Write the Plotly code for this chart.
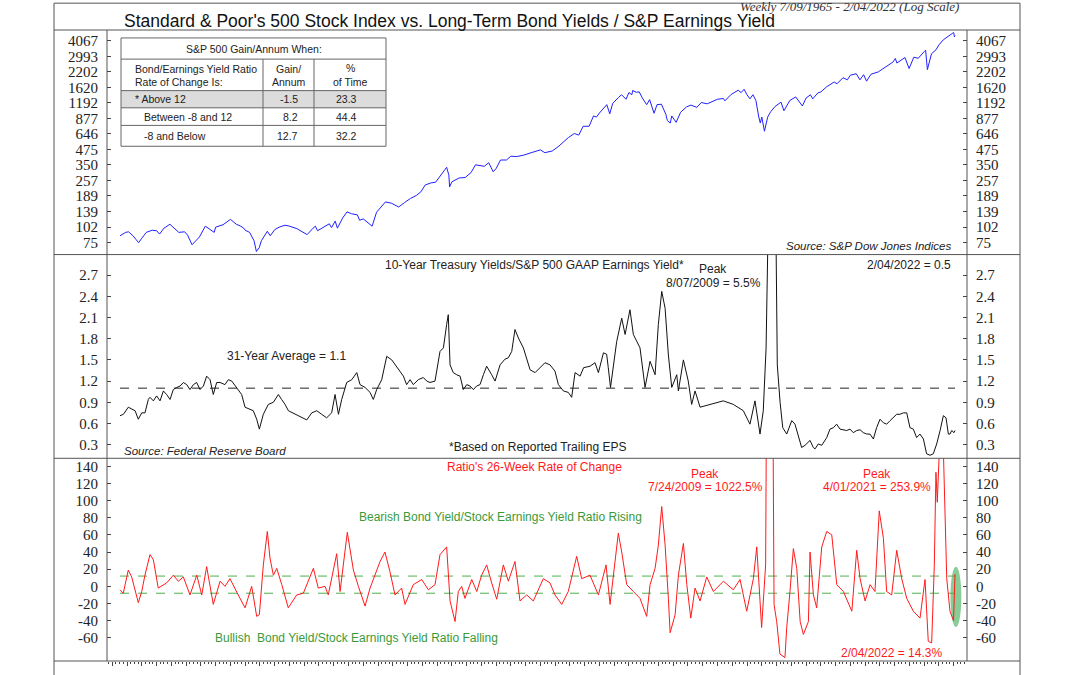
import pandas as pd
import numpy as np
import plotly.graph_objects as go

# ---------------- DATA ----------------
sp_t = [1965.52,1965.9,1966.1,1966.4,1966.6,1966.78,1967.0,1967.3,1967.7,1968.0,1968.2,1968.5,1968.9,1969.2,1969.5,1969.9,
        1970.1,1970.4,1970.5,1970.9,1971.3,1971.6,1971.9,1972.0,1972.5,1973.0,1973.4,1973.7,1973.9,1974.0,1974.3,1974.6,
        1974.76,1974.95,1975.1,1975.5,1975.7,1976.0,1976.3,1976.7,1977.0,1977.5,1977.9,1978.2,1978.6,1978.75,1978.9,1979.3,
        1979.7,1979.85,1980.1,1980.25,1980.6,1980.9,1981.2,1981.6,1981.75,1982.0,1982.6,1982.9,1983.5,1983.9,1984.4,1984.8,
        1985.2,1985.6,1985.9,1986.2,1986.6,1986.9,1987.3,1987.65,1987.8,1987.85,1988.0,1988.5,1988.9,1989.3,1989.6,1989.9,
        1990.2,1990.5,1990.8,1991.0,1991.3,1991.7,1992.0,1992.4,1992.9,1993.5,1994.0,1994.3,1994.8,1995.2,1995.6,1995.9,
        1996.3,1996.6,1996.9,1997.3,1997.6,1997.8,1998.0,1998.5,1998.7,1998.9,1999.3,1999.5,1999.8,2000.0,2000.2,2000.25,
        2000.5,2000.7,2000.9,2001.2,2001.4,2001.7,2001.9,2002.2,2002.5,2002.6,2002.8,2002.9,2003.2,2003.5,2003.9,2004.2,
        2004.6,2004.9,2005.3,2005.7,2006.0,2006.4,2006.5,2006.9,2007.4,2007.6,2007.8,2008.0,2008.2,2008.4,2008.6,2008.8,
        2008.9,2009.0,2009.18,2009.4,2009.6,2009.9,2010.3,2010.5,2010.9,2011.3,2011.6,2011.75,2012.0,2012.3,2012.45,2012.8,
        2013.0,2013.4,2013.9,2014.1,2014.5,2014.8,2015.0,2015.4,2015.65,2015.9,2016.1,2016.4,2016.9,2017.3,2017.9,2018.05,
        2018.15,2018.7,2018.98,2019.3,2019.6,2020.0,2020.1,2020.22,2020.5,2020.8,2021.0,2021.3,2021.6,2021.9,2022.0,2022.05,2022.09]
sp_v = [86,92,93,86,80,75,82,92,96,95,89,100,108,100,92,93,
        87,72,74,84,104,97,92,102,107,119,108,104,100,96,92,78,
        63,68,78,94,86,97,102,106,104,99,92,88,100,104,95,101,
        109,101,115,100,122,138,133,130,117,120,104,137,168,164,152,166,
        180,191,205,235,245,248,290,333,285,226,250,270,272,300,350,345,
        340,365,305,325,385,385,415,412,425,450,470,445,460,500,560,600,
        650,630,750,750,920,900,975,1150,960,1180,1330,1400,1280,1460,1400,1520,
        1470,1480,1320,1150,1270,970,1150,1160,950,840,800,920,810,990,1100,1140,
        1090,1200,1170,1230,1280,1300,1240,1400,1530,1460,1560,1400,1290,1400,1250,900,
        800,900,680,900,1000,1110,1210,1020,1250,1340,1200,1120,1310,1400,1290,1450,
        1480,1640,1800,1740,1960,1880,2060,2120,1880,2080,1830,2100,2200,2380,2680,2870,
        2620,2920,2350,2940,2880,3280,3380,2300,3150,3400,3750,4150,4450,4700,4790,4400,4500]

ratio_t = [1965.52,1965.75,1966.08,1966.31,1966.54,1966.76,1966.99,1967.21,1967.44,1967.55,1967.78,1968.00,1968.23,1968.46,
           1968.68,1968.91,1969.13,1969.36,1969.59,1969.81,1970.04,1970.26,1970.49,1970.71,1970.94,1971.17,1971.39,1971.62,
           1971.84,1972.07,1972.30,1972.63,1972.86,1973.09,1973.42,1973.76,1973.99,1974.33,1974.55,1974.78,1974.96,1975.23,
           1975.57,1975.91,1976.25,1976.47,1976.70,1976.93,1977.38,1977.83,1978.17,1978.51,1978.85,1979.18,1979.52,1979.86,
           1980.09,1980.32,1980.54,1980.88,1981.22,1981.56,1981.78,1982.12,1982.46,1982.68,1982.91,1983.25,1983.59,1983.93,
           1984.26,1984.49,1984.72,1984.94,1985.17,1985.39,1985.73,1986.07,1986.30,1986.52,1986.86,1987.20,1987.43,1987.65,
           1987.76,1987.88,1988.10,1988.33,1988.56,1988.78,1989.01,1989.23,1989.46,1989.68,1989.91,1990.14,1990.36,1990.70,
           1990.93,1991.27,1991.60,1991.83,1992.06,1992.28,1992.51,1992.85,1993.07,1993.30,1993.64,1993.98,1994.31,1994.65,
           1994.99,1995.22,1995.56,1995.89,1996.12,1996.35,1996.69,1996.93,1997.36,1997.70,1997.93,1998.27,1998.49,1998.60,
           1998.75,1999.17,1999.51,1999.74,2000.07,2000.30,2000.75,2001.09,2001.43,2001.77,2001.99,2002.22,2002.45,2002.67,
           2002.90,2003.24,2003.35,2003.69,2004.02,2004.25,2004.48,2004.82,2005.49,2006.39,2007.07,2007.75,2008.20,2008.54,
           2008.88,2009.10,2009.29,2009.35,2009.60,2009.95,2010.05,2010.24,2010.42,2010.69,2011.03,2011.25,2011.36,2011.59,
           2011.70,2011.93,2012.27,2012.49,2012.61,2012.83,2013.06,2013.40,2013.62,2013.85,2014.07,2014.30,2014.75,2014.98,
           2015.20,2015.43,2015.66,2015.88,2016.11,2016.33,2016.56,2016.78,2017.01,2017.24,2017.46,2017.69,2017.91,2018.14,
           2018.37,2018.59,2018.82,2019.04,2019.27,2019.49,2019.72,2019.95,2020.17,2020.40,2020.62,2020.85,2021.08,2021.30,
           2021.48,2021.64,2021.75,2021.87,2022.02,2022.09]
ratio_v = [0.71,0.73,0.83,0.80,0.78,0.66,0.75,0.75,0.94,0.97,0.92,0.99,0.92,1.06,
           1.01,0.94,1.08,1.11,1.13,1.18,1.15,1.08,1.15,1.18,1.08,1.13,1.27,1.22,
           1.01,1.18,1.18,1.15,1.22,1.20,1.11,1.01,0.83,0.80,0.78,0.66,0.52,0.73,
           0.87,0.90,1.01,0.94,0.87,0.78,0.73,0.68,0.65,0.75,0.78,0.73,0.68,0.75,
           1.01,0.73,0.94,1.18,1.22,1.32,1.15,1.11,1.04,0.94,1.08,1.22,1.55,1.50,
           1.41,1.34,1.27,1.15,1.22,1.15,1.22,1.25,1.20,1.18,1.20,1.62,1.67,2.00,
           2.14,1.43,1.32,1.29,1.27,1.08,1.15,1.13,1.08,1.13,1.15,1.29,1.41,1.29,
           1.20,1.43,1.51,1.53,1.62,1.93,1.81,1.67,1.53,1.36,1.32,1.39,1.46,1.43,
           1.34,1.15,1.06,1.04,0.97,1.32,1.27,1.39,1.41,1.46,1.32,1.60,1.58,1.39,
           1.11,1.76,2.09,1.86,2.21,1.86,1.67,1.11,1.48,1.29,2.00,2.47,2.23,1.57,
           1.11,1.29,1.06,1.50,1.20,0.87,1.06,0.83,0.87,0.92,0.87,0.78,0.59,0.92,
           0.45,0.78,1.67,3.50,5.50,3.50,1.43,0.90,0.54,0.45,0.64,0.59,0.50,0.31,
           0.26,0.29,0.36,0.26,0.24,0.31,0.29,0.40,0.52,0.54,0.59,0.52,0.50,0.52,
           0.47,0.50,0.51,0.47,0.45,0.45,0.38,0.54,0.66,0.61,0.59,0.64,0.68,0.73,
           0.73,0.75,0.75,0.54,0.52,0.40,0.45,0.38,0.17,0.15,0.17,0.31,0.50,0.71,
           0.68,0.45,0.45,0.50,0.47,0.50]
ratio_avg = 1.1

roc_t = [1965.52,1965.74,1966.08,1966.31,1966.76,1966.99,1967.21,1967.55,1967.78,1968.11,1968.68,1969.13,1969.47,1969.81,
         1970.26,1970.72,1971.06,1971.39,1971.84,1972.3,1972.63,1972.97,1973.53,1973.99,1974.44,1974.78,1974.96,1975.23,
         1975.5,1975.68,1975.91,1976.14,1976.48,1976.92,1977.49,1977.94,1978.62,1978.95,1979.41,1979.63,1980.2,1980.43,
         1980.92,1981.33,1981.67,1982.12,1982.46,1983.14,1983.47,1983.81,1984.15,1984.6,1984.83,1985.39,1985.96,1986.41,
         1986.86,1987.2,1987.65,1987.88,1988.22,1988.44,1988.67,1988.89,1989.35,1989.69,1990.02,1990.36,1990.7,1991.04,
         1991.49,1991.83,1992.28,1992.62,1993.07,1993.52,1994.2,1994.65,1994.99,1995.45,1995.89,1996.46,1996.8,1997.36,
         1997.93,1998.45,1998.72,1999.28,1999.51,1999.85,2000.3,2000.75,2001.2,2001.43,2001.77,2001.99,2002.22,2002.45,
         2002.67,2002.79,2003.13,2003.35,2003.69,2003.92,2004.19,2004.48,2004.82,2005.27,2005.72,2006.4,2007.07,2007.53,
         2007.98,2008.43,2008.66,2008.99,2009.26,2009.35,2009.56,2009.69,2009.78,2009.83,2010.01,2010.23,2010.57,2010.69,
         2010.91,2011.14,2011.37,2011.6,2011.82,2012.16,2012.27,2012.5,2012.72,2013.06,2013.4,2013.74,2014.08,2014.53,
         2015.1,2015.43,2015.66,2016.0,2016.34,2016.67,2016.96,2017.24,2017.46,2017.8,2018.14,2018.48,2018.82,2019.27,
         2019.72,2020.06,2020.28,2020.51,2020.69,2020.8,2020.89,2021.03,2021.14,2021.25,2021.3,2021.35,2021.53,2021.75,
         2021.91,2021.99,2022.09]
roc_v = [-4,-8,19,11,-19,-6,13,37,31,-2,4,13,6,11,
         -10,13,-10,23,-21,6,0,9,-10,-25,0,-35,-33,25,
         64,33,13,21,2,-25,-10,-8,21,-2,0,-10,38,-6,
         63,19,0,-23,-2,29,40,17,-10,-2,-21,2,8,-4,
         2,37,46,-17,-41,-6,0,-14,8,-6,13,25,4,-15,
         25,6,29,-17,-10,-17,9,4,-10,-21,-6,35,9,13,
         -10,25,-21,62,40,2,-6,-14,-35,2,21,48,93,48,
         -14,-54,-33,13,50,2,-37,-2,-17,11,-6,6,-4,8,
         -29,9,46,-48,25,300,1022.5,400,150,-21,-41,-79,-83,-48,
         -6,44,21,-41,-56,-41,40,-10,-25,46,64,60,2,-6,
         -29,42,9,-17,2,-6,88,56,-6,-10,42,9,-14,-29,
         -37,8,-64,-66,25,133,98,160,200,253.9,160,118,9,-29,
         -37,-40,14.3]
roc_upper = 12
roc_lower = -8

sp_ticks = [75,102,139,189,257,350,475,646,877,1192,1620,2202,2993,4067]
ratio_ticks = [0.3,0.6,0.9,1.2,1.5,1.8,2.1,2.4,2.7]
roc_ticks = [-60,-40,-20,0,20,40,60,80,100,120,140]

table_title = "S&P 500 Gain/Annum When:"
table_rows = ["* Above 12", "Between -8 and 12", "-8 and Below"]
table_gain = [-1.5, 8.2, 12.7]
table_pct = [23.3, 44.4, 32.2]

# ---------------- helpers ----------------
def to_date(y):
    yr = int(np.floor(y))
    start = pd.Timestamp(year=yr, month=1, day=1)
    return start + pd.Timedelta(days=(y - yr) * 365.25)

sp_d = [to_date(v) for v in sp_t]
ratio_d = [to_date(v) for v in ratio_t]
roc_d = [to_date(v) for v in roc_t]

L, R, T, B = 107, 967, 30, 665
def PX(px): return (px - L) / (R - L)
def PY(py): return (B - py) / (B - T)

d1 = [PY(256), 1.0]
d2 = [PY(461), PY(256)]
d3 = [0.0, PY(461)]

SANS = "Liberation Sans, Arial, sans-serif"
SERIF = "Liberation Serif, Times New Roman, serif"
RED = "#ff1a1a"
GREEN = "#3a9a3a"

fig = go.Figure()
fig.add_trace(go.Scatter(x=sp_d, y=sp_v, mode="lines", line=dict(color="#2020ff", width=1), xaxis="x", yaxis="y"))
fig.add_trace(go.Scatter(x=sp_d, y=sp_v, mode="lines", line=dict(color="rgba(0,0,0,0)", width=0), xaxis="x", yaxis="y4", hoverinfo="skip"))

fig.add_trace(go.Scatter(x=[ratio_d[0], ratio_d[-1]], y=[ratio_avg, ratio_avg], mode="lines",
                         line=dict(color="#222", width=1, dash="dash"), xaxis="x", yaxis="y2"))
fig.add_trace(go.Scatter(x=ratio_d, y=ratio_v, mode="lines", line=dict(color="#111", width=1), xaxis="x", yaxis="y2"))
fig.add_trace(go.Scatter(x=ratio_d, y=ratio_v, mode="lines", line=dict(color="rgba(0,0,0,0)", width=0), xaxis="x", yaxis="y5", hoverinfo="skip"))

for lvl in (roc_upper, roc_lower):
    fig.add_trace(go.Scatter(x=[roc_d[0], roc_d[-1]], y=[lvl, lvl], mode="lines",
                             line=dict(color="#4cb04c", width=1, dash="dash"), xaxis="x", yaxis="y3"))
fig.add_trace(go.Scatter(x=roc_d, y=roc_v, mode="lines", line=dict(color=RED, width=1), xaxis="x", yaxis="y3"))
fig.add_trace(go.Scatter(x=roc_d, y=roc_v, mode="lines", line=dict(color="rgba(0,0,0,0)", width=0), xaxis="x", yaxis="y6", hoverinfo="skip"))

def yax(domain, rng, ticks, fmt, side, log=False, overlay=None):
    d = dict(domain=domain, range=rng, tickmode="array", tickvals=ticks,
             ticktext=[fmt(t) for t in ticks], ticks="inside", ticklen=4, tickcolor="#444",
             showgrid=False, zeroline=False, showline=False, side=side, anchor="x",
             tickfont=dict(family=SERIF, size=15, color="#222"), ticklabelstandoff=8)
    if log:
        d["type"] = "log"
    if overlay:
        d["overlaying"] = overlay
    return d

f_int = lambda t: f"{t:d}"
f_1 = lambda t: f"{t:.1f}"
rng1 = [np.log10(59.3), np.log10(5036)]
rng2 = [0.107, 2.991]
rng3 = [-87, 149.3]

layout = dict(
    width=1080, height=675, margin=dict(l=L, r=1080 - R, t=T, b=675 - B),
    paper_bgcolor="white", plot_bgcolor="white", showlegend=False,
    xaxis=dict(domain=[0, 1], anchor="y3", type="date",
               range=[to_date(1965.52 - 13 / 14.76), to_date(2022.09 + 12 / 14.76)],
               showticklabels=False, ticks="outside", ticklen=4, tickcolor="#444",
               dtick="M12", tick0="1965-01-01", showgrid=False, zeroline=False, showline=False,
               minor=dict(ticks="outside", ticklen=2, dtick="M3", tickcolor="#444", showgrid=False)),
    yaxis=yax(d1, rng1, sp_ticks, f_int, "left", log=True),
    yaxis4=yax(d1, rng1, sp_ticks, f_int, "right", log=True, overlay="y"),
    yaxis2=yax(d2, rng2, ratio_ticks, f_1, "left"),
    yaxis5=yax(d2, rng2, ratio_ticks, f_1, "right", overlay="y2"),
    yaxis3=yax(d3, rng3, roc_ticks, f_int, "left"),
    yaxis6=yax(d3, rng3, roc_ticks, f_int, "right", overlay="y3"),
)
fig.update_layout(**layout)

# ---------------- frame ----------------
shapes = []
LC = "#555"
def hline(py, x0=54, x1=1020, color=LC):
    shapes.append(dict(type="line", xref="paper", yref="paper", x0=PX(x0), x1=PX(x1), y0=PY(py), y1=PY(py),
                       line=dict(color=color, width=1)))
def vline(px, y0, y1, color=LC):
    shapes.append(dict(type="line", xref="paper", yref="paper", x0=PX(px), x1=PX(px), y0=PY(y0), y1=PY(y1),
                       line=dict(color=color, width=1)))
for py in (3, 30, 256, 461, 665):
    hline(py)
vline(54, 3, 690)
vline(1020, 3, 690)
vline(L, 30, 665)
vline(R, 30, 665)

# table
TX0, TX1, TY0, TY1 = 121, 386, 38, 147
shapes.append(dict(type="rect", xref="paper", yref="paper", x0=PX(TX0), x1=PX(TX1), y0=PY(91), y1=PY(108.3),
                   fillcolor="#dcdcdc", line=dict(width=0)))
shapes.append(dict(type="rect", xref="paper", yref="paper", x0=PX(TX0), x1=PX(TX1), y0=PY(TY1), y1=PY(TY0),
                   fillcolor="rgba(0,0,0,0)", line=dict(color="#666", width=1)))
for py in (59.3, 91, 108.3, 126):
    hline(py, TX0, TX1, "#666")
for px in (263, 314):
    vline(px, 59.3, TY1, "#666")

# ellipse highlight
shapes.append(dict(type="circle", xref="x", yref="y3", x0=to_date(2021.78), x1=to_date(2022.52), y0=-47.5, y1=23,
                   fillcolor="rgba(60,170,80,0.6)", line=dict(width=0), layer="below"))
fig.update_layout(shapes=shapes)

# ---------------- annotations ----------------
ann = []
def text(s, px, py, size=12, color="#222", xanchor="left", family=SANS):
    ann.append(dict(text=s, x=PX(px), y=PY(py), xref="paper", yref="paper", showarrow=False,
                    xanchor=xanchor, yanchor="middle", font=dict(family=family, size=size, color=color)))

text("Standard & Poor's 500 Stock Index vs. Long-Term Bond Yields / S&P Earnings Yield", 449, 20.5, 17.5, "#111", "center")
text("<i>Weekly 7/09/1965 - 2/04/2022 (Log Scale)</i>", 849, 6.5, 13, "#333", "center", SERIF)

text(table_title, 253.5, 49, 10.5, "#222", "center")
text("Bond/Earnings Yield Ratio", 133, 69, 10.5)
text("Rate of Change Is:", 133, 82, 10.5)
text("Gain/", 288.5, 69, 10.5, "#222", "center")
text("Annum", 288.5, 82, 10.5, "#222", "center")
text("%", 350, 68, 10.5, "#222", "center")
text("of Time", 350, 82, 10.5, "#222", "center")
row_y = [99.7, 117.2, 136.6]
row_x = [133, 142, 142]
for lab, g, p, ry, rx in zip(table_rows, table_gain, table_pct, row_y, row_x):
    text(lab, rx, ry, 10.5)
    text(f"{g:.1f}", 300, ry, 10.5, "#222", "right")
    text(f"{p:.1f}", 359, ry, 10.5, "#222", "right")

text("<i>Source: S&P Dow Jones Indices</i>", 953, 247, 11.5, "#222", "right")
text("10-Year Treasury Yields/S&P 500 GAAP Earnings Yield*", 383, 266, 12)
text("Peak", 713, 270.5, 12, "#222", "center")
text("8/07/2009 = 5.5%", 713, 284.3, 12, "#222", "center")
text("2/04/2022 = 0.5", 953, 266, 12, "#222", "right")
text("31-Year Average = 1.1", 225, 358.3, 12)
text("<i>Source: Federal Reserve Board</i>", 122, 453.3, 11.5)
text("*Based on Reported Trailing EPS", 447, 450, 12)

text("Ratio's 26-Week Rate of Change", 445, 470, 12, RED)
text("Peak", 705, 476.7, 12, RED, "center")
text("7/24/2009 = 1022.5%", 705, 490, 12, RED, "center")
text("Peak", 877, 476.7, 12, RED, "center")
text("4/01/2021 = 253.9%", 877, 490, 12, RED, "center")
text("Bearish Bond Yield/Stock Earnings Yield Ratio Rising", 357, 520, 12, GREEN)
text("Bullish&nbsp; Bond Yield/Stock Earnings Yield Ratio Falling", 212.5, 641.7, 12, GREEN)
text("2/04/2022 = 14.3%", 891, 656.7, 12, RED, "center")

fig.update_layout(annotations=ann)
fig.write_html("out.html")
